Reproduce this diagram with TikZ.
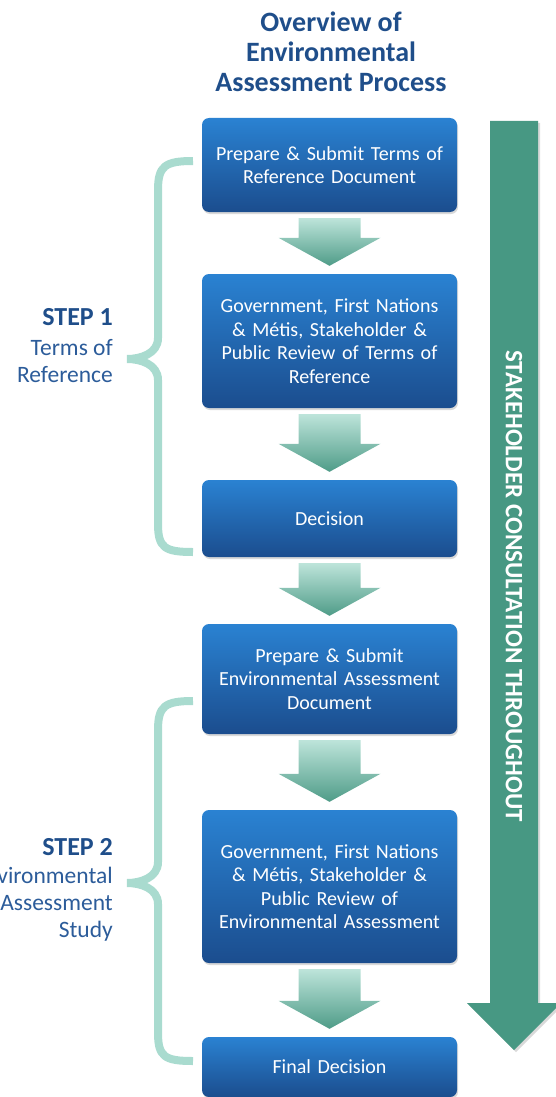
\documentclass[tikz,border=0pt]{standalone}
\usepackage{fontspec}
\setmainfont{Carlito}
\usetikzlibrary{calc,shadows}
\definecolor{boxtop}{HTML}{2A82D2}
\definecolor{boxbot}{HTML}{1B4D8E}
\definecolor{arrowtop}{HTML}{BDE4DA}
\definecolor{arrowbot}{HTML}{4F9C88}
\definecolor{bracecol}{HTML}{A9DBCF}
\definecolor{bigarrow}{HTML}{479883}
\definecolor{titleblue}{HTML}{1F4E8A}
\definecolor{labelblue}{HTML}{2C5C9A}
\tikzset{
  stagebox/.style={rounded corners=7pt, top color=boxtop, bottom color=boxbot, text=white,
    minimum width=255pt, text width=245pt, align=center, inner sep=0pt,
    font=\fontsize{20}{23.5}\selectfont,
    drop shadow={opacity=0.3, shadow xshift=1pt, shadow yshift=-2pt}},
  downarrow/.style={top color=arrowtop, bottom color=arrowbot},
  brace/.style={draw=bracecol, line width=8pt},
  steplabel/.style={anchor=base east, inner sep=0pt, text=titleblue, font=\fontsize{26}{28}\selectfont\bfseries},
  stepnote/.style={anchor=base east, inner sep=0pt, text=labelblue, font=\fontsize{23.5}{28}\selectfont}
}
\newcommand{\stagearrow}[2]{%
  \path[downarrow] ($(#1.south)+(-31,6)$) -- ($(#1.south)+(31,6)$)
    -- ($(#2.north)+(31,-36)$) -- ($(#2.north)+(51,-36)$)
    -- ($(#2.north)+(0,-8)$) -- ($(#2.north)+(-51,-36)$)
    -- ($(#2.north)+(-31,-36)$) -- cycle;}
\begin{document}
\begin{tikzpicture}[x=1pt, y=-1pt]
\useasboundingbox (0,0) rectangle (556,1097);
\node[align=center, text=titleblue, font=\fontsize{28}{30}\selectfont\bfseries] (title) at (331,52) {Overview of\\Environmental\\Assessment Process};

\path[fill=bigarrow, drop shadow={opacity=0.3, shadow xshift=2pt, shadow yshift=-2pt}] (490,121) -- (538,121) -- (538,1003) -- (561,1003) -- (514,1050) -- (467,1003) -- (490,1003) -- cycle;
\node[rotate=-90, text=white, font=\fontsize{25}{28}\selectfont\bfseries] (consult) at (514,586) {STAKEHOLDER CONSULTATION THROUGHOUT};

\node[stagebox, minimum height=94pt] (prepTOR) at (329.5,165) {Prepare \& Submit Terms of\\Reference Document};
\node[stagebox, minimum height=134pt] (reviewTOR) at (329.5,341) {Government, First Nations\\\& Métis, Stakeholder \&\\Public Review of Terms of\\Reference};
\node[stagebox, minimum height=77pt] (decisionTOR) at (329.5,518.5) {Decision};
\node[stagebox, minimum height=110pt] (prepEA) at (329.5,679) {Prepare \& Submit\\Environmental Assessment\\Document};
\node[stagebox, minimum height=153pt] (reviewEA) at (329.5,886.5) {Government, First Nations\\\& Métis, Stakeholder \&\\Public Review of\\Environmental Assessment};
\node[stagebox, minimum height=60pt] (finalDecision) at (329.5,1067) {Final Decision};

\stagearrow{prepTOR}{reviewTOR}
\stagearrow{reviewTOR}{decisionTOR}
\stagearrow{decisionTOR}{prepEA}
\stagearrow{prepEA}{reviewEA}
\stagearrow{reviewEA}{finalDecision}

\draw[brace] (193,161) .. controls (165,161) and (158,166) .. (158,190) -- (158,338) .. controls (158,354) and (140,359) .. (127,359) .. controls (140,359) and (158,364) .. (158,380) -- (158,524) .. controls (158,548) and (165,552) .. (193,552);
\draw[brace] (193,701) .. controls (165,701) and (158,706) .. (158,730) -- (158,862) .. controls (158,878) and (140,883) .. (127,883) .. controls (140,883) and (158,888) .. (158,904) -- (158,1033) .. controls (158,1057) and (165,1061) .. (193,1061);

\node[steplabel] (stepone) at (113,325) {STEP 1};
\node[stepnote] (steponeA) at (113,355) {Terms of};
\node[stepnote] (steponeB) at (113,382) {Reference};
\node[steplabel] (steptwo) at (113,855) {STEP 2};
\node[stepnote] (steptwoA) at (113,883) {Environmental};
\node[stepnote] (steptwoB) at (113,910) {Assessment};
\node[stepnote] (steptwoC) at (113,937) {Study};
\end{tikzpicture}
\end{document}
